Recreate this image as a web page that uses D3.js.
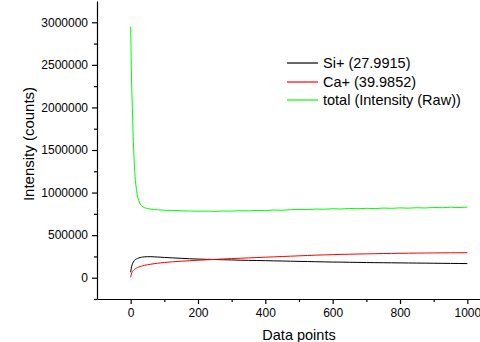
<!DOCTYPE html>
<html>
<head>
<meta charset="utf-8">
<script src="https://cdn.jsdelivr.net/npm/d3@7"></script>
<style>
  body { margin: 0; background: #fff; }
  svg { display: block; }
</style>
</head>
<body>
<svg></svg>
<script>
const width = 480;
const height = 342;

// x positions (data point index) shared by all three series
const points = [0, 1, 2, 3, 5, 6, 8, 10, 12, 14, 17, 20, 24, 28, 32, 36, 42, 50, 60, 70, 80, 90,
  100, 125, 150, 175, 200, 225, 250, 275, 300, 325, 350, 375, 400, 425, 450, 475, 500,
  525, 550, 575, 600, 625, 650, 675, 700, 725, 750, 775, 800, 825, 850, 875, 900, 925, 950, 975, 1000];

const siValues = [65000, 90000, 115000, 135000, 160000, 170000, 185000, 196000, 205000, 212000, 220000,
  226000, 232000, 237000, 240000, 243000, 245000, 247000, 247000, 245000, 243000, 241000,
  238000, 233000, 228000, 223000, 219000, 216000, 214000, 211000, 209000, 206000, 204000, 202000,
  200000, 198000, 196000, 194000, 192000, 190000, 188000, 186000, 184000, 183000, 181000, 180000,
  178000, 177000, 176000, 175000, 174000, 173000, 172000, 171000, 170000, 169000, 168000, 167000, 166000];

const caValues = [5000, 25000, 42000, 55000, 70000, 76000, 86000, 94000, 100000, 106000, 113000,
  119000, 126000, 131000, 136000, 140000, 146000, 152000, 159000, 165000, 170000, 175000,
  179000, 187000, 194000, 200000, 205000, 210000, 215000, 220000, 225000, 229000, 233000, 237000,
  241000, 245000, 249000, 253000, 257000, 261000, 265000, 268000, 271000, 274000, 276000, 278000,
  280000, 282000, 284000, 285000, 287000, 288000, 289000, 290000, 291000, 292000, 293000, 293000, 294000];

const totalValues = [2950000, 2700000, 2450000, 2250000, 2000000, 1850000, 1600000, 1400000, 1250000,
  1140000, 1040000, 960000, 905000, 868000, 846000, 833000, 821000, 812000, 806000, 801000, 798000, 795000,
  792000, 790000, 786000, 784000, 781000, 783000, 779000, 784000, 782000, 787000, 785000, 790000,
  788000, 795000, 792000, 799000, 803000, 800000, 806000, 804000, 810000, 807000, 813000, 810000,
  815000, 812000, 818000, 815000, 820000, 817000, 822000, 819000, 825000, 822000, 828000, 824000, 829000];

const series = [
  { name: "Si+ (27.9915)", values: siValues, color: "#000000" },
  { name: "Ca+ (39.9852)", values: caValues, color: "#ff0000" },
  { name: "total (Intensity (Raw))", values: totalValues, color: "#00ff00" }
];

const xMajor = [0, 200, 400, 600, 800, 1000];
const xMinor = [100, 300, 500, 700, 900];
const yMajor = [0, 500000, 1000000, 1500000, 2000000, 2500000, 3000000];
const yMinor = [-250000, 250000, 750000, 1250000, 1750000, 2250000, 2750000];

const plotLeft = 97;
const plotRight = 501;
const plotTop = 1;
const plotBottom = 299;
const font = "'Liberation Sans', Arial, sans-serif";

const svg = d3.select("svg").attr("width", width).attr("height", height);

const xScale = d3.scaleLinear().domain([-100, 1100]).range([plotLeft, plotRight]);
const yScale = d3.scaleLinear().domain([-250000, 3250000]).range([plotBottom, plotTop]);

// lines
const line = d3.line()
  .x((d, i) => xScale(points[i]))
  .y(d => yScale(d));

series.forEach(s => {
  svg.append("path")
    .datum(s.values)
    .attr("fill", "none")
    .attr("stroke", s.color)
    .attr("stroke-width", 1)
    .attr("d", line);
});

// axes
svg.append("g")
  .attr("transform", "translate(0," + plotBottom + ")")
  .call(d3.axisBottom(xScale).tickValues(xMajor).tickSize(5).tickSizeOuter(0).tickPadding(4).tickFormat(d3.format("d")));
svg.append("g")
  .attr("transform", "translate(0," + plotBottom + ")")
  .call(d3.axisBottom(xScale).tickValues(xMinor).tickSize(3).tickFormat(""))
  .select(".domain").remove();

svg.append("g")
  .attr("transform", "translate(" + plotLeft + ",0)")
  .call(d3.axisLeft(yScale).tickValues(yMajor).tickSize(5).tickSizeOuter(0).tickPadding(4).tickFormat(d3.format("d")));
svg.append("g")
  .attr("transform", "translate(" + plotLeft + ",0)")
  .call(d3.axisLeft(yScale).tickValues(yMinor).tickSize(3).tickFormat(""))
  .select(".domain").remove();

svg.selectAll(".domain, .tick line").attr("stroke", "#000").attr("stroke-width", 1.2);
svg.selectAll(".tick text").attr("font-family", font).attr("font-size", 12).attr("fill", "#000");

// axis titles
svg.append("text")
  .attr("x", (plotLeft + plotRight) / 2)
  .attr("y", 340)
  .attr("text-anchor", "middle")
  .attr("font-family", font)
  .attr("font-size", 14.5)
  .text("Data points");

svg.append("text")
  .attr("transform", "translate(34,144) rotate(-90)")
  .attr("text-anchor", "middle")
  .attr("font-family", font)
  .attr("font-size", 15)
  .text("Intensity (counts)");

// legend
const legend = svg.append("g").attr("transform", "translate(287,63)");
series.forEach((s, i) => {
  const row = legend.append("g").attr("transform", "translate(0," + Math.round(i * 18.5) + ")");
  row.append("line")
    .attr("x1", 0).attr("x2", 31)
    .attr("y1", 0).attr("y2", 0)
    .attr("stroke", s.color)
    .attr("stroke-width", 1.2);
  row.append("text")
    .attr("x", 36)
    .attr("y", 5)
    .attr("font-family", font)
    .attr("font-size", 14.5)
    .text(s.name);
});
</script>
</body>
</html>
